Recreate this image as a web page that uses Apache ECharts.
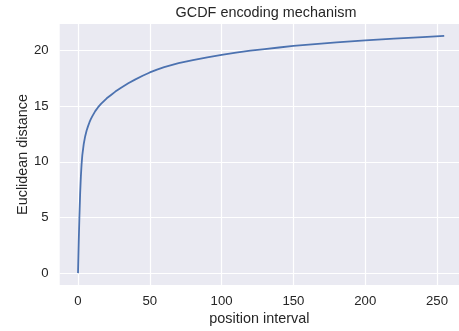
<!DOCTYPE html>
<html>
<head>
<meta charset="utf-8">
<script src="https://cdn.jsdelivr.net/npm/echarts@6/dist/echarts.min.js"></script>
<style>html,body{margin:0;padding:0;background:#fff}#c{width:459px;height:331px}</style>
</head>
<body>
<div id="c"></div>
<script>
const titleText = 'GCDF encoding mechanism';
const xName = 'position interval';
const yName = 'Euclidean distance';
const xTicks = [0, 50, 100, 150, 200, 250];
const yTicks = [0, 5, 10, 15, 20];
const positions = [0, 0.5, 1, 1.5, 2, 2.5, 3, 4, 5, 6, 7, 8, 9, 10, 12, 14, 16, 18, 20, 23, 26, 30, 35, 40, 45, 50, 55, 60, 70, 80, 90, 100, 110, 120, 130, 140, 150, 165, 180, 200, 220, 240, 255];
const distances = [0, 2.8, 5.2, 7.2, 8.7, 9.8, 10.6, 11.6, 12.3, 12.8, 13.2, 13.55, 13.85, 14.1, 14.55, 14.9, 15.2, 15.45, 15.7, 16.0, 16.3, 16.65, 17.05, 17.4, 17.72, 18.02, 18.28, 18.5, 18.85, 19.12, 19.38, 19.6, 19.8, 19.97, 20.12, 20.26, 20.4, 20.57, 20.72, 20.9, 21.05, 21.2, 21.3];

const txt = '#262626';
const font = 'Liberation Sans, Arial, sans-serif';
const chart = echarts.init(document.getElementById('c'), null, {renderer: 'canvas'});
chart.setOption({
  animation: false,
  backgroundColor: '#ffffff',
  title: {
    text: titleText, left: 261, top: 1, textAlign: 'center',
    textStyle: {color: txt, fontFamily: font, fontSize: 14.4, fontWeight: 'normal'}
  },
  grid: {left: 59.7, top: 24, width: 399.3, height: 261, show: true, backgroundColor: '#EAEAF2', borderWidth: 0, containLabel: false},
  xAxis: {
    type: 'value', min: -12.75, max: 265.3,
    name: xName, nameLocation: 'middle', nameGap: 27, nameMoveOverlap: false,
    nameTextStyle: {color: txt, fontFamily: font, fontSize: 14.4},
    axisLine: {show: false},
    axisTick: {show: false, customValues: xTicks},
    axisLabel: {customValues: xTicks, color: txt, fontFamily: font, fontSize: 13.2, margin: 10},
    splitLine: {show: true, lineStyle: {color: '#ffffff', width: 1.2}}
  },
  yAxis: {
    type: 'value', min: -1.065, max: 22.37,
    name: yName, nameLocation: 'middle', nameGap: 30, nameRotate: 90, nameMoveOverlap: false,
    nameTextStyle: {color: txt, fontFamily: font, fontSize: 14.4},
    axisLine: {show: false},
    axisTick: {show: false, customValues: yTicks},
    axisLabel: {customValues: yTicks, color: txt, fontFamily: font, fontSize: 13.2, margin: 11},
    splitLine: {show: true, lineStyle: {color: '#ffffff', width: 1.2}}
  },
  series: [{
    type: 'line',
    data: positions.map((p, i) => [p, distances[i]]),
    showSymbol: false,
    smooth: false,
    lineStyle: {color: '#4C72B0', width: 1.8},
    itemStyle: {color: '#4C72B0'}
  }]
});
</script>
</body>
</html>
